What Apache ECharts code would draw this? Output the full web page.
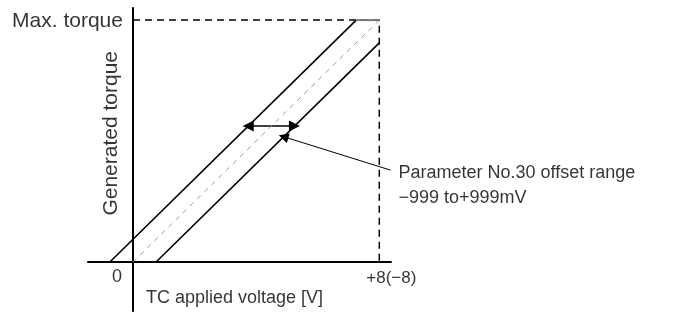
<!DOCTYPE html>
<html>
<head>
<meta charset="utf-8">
<script src="https://cdn.jsdelivr.net/npm/echarts@6/dist/echarts.min.js"></script>
<style>
  html, body { margin: 0; padding: 0; background: #fff; }
  #chart { width: 678px; height: 320px; }
</style>
</head>
<body>
<div id="chart"></div>
<script>
// Torque command input: generated torque (% of max) versus TC applied voltage (V)
const nominalLine    = [[0, 0], [8, 100]];
const upperLine      = [[-0.75, 0], [7.25, 100]];
const saturationLine = [[7.25, 100], [8, 100]];
const lowerLine      = [[0.75, 0], [8, 90.6]];
const maxTorqueGuide = [[0, 100], [8, 100], [8, 0]];
const offsetArrow    = [[3.745, 56.2], [5.245, 56.2]];
const leaderLine     = [[4.89, 51.8], [8.36, 38]];

const tickValues = [0, 8];
const tickLabels = ['0', '+8(−8)'];
const yTopLabel  = 'Max. torque';
const yAxisTitle = 'Generated torque';
const xAxisTitle = 'TC applied voltage [V]';
const noteLines  = ['Parameter No.30 offset range', '−999 to+999mV'];

const FONT = '"Liberation Sans", Arial, Helvetica, sans-serif';

// a text anchored at a data point
function textAt(point, text, opts) {
  return {
    value: point,
    label: Object.assign({
      show: true,
      position: 'inside',
      formatter: text,
      color: '#000',
      fontFamily: FONT,
      fontSize: 18,
      align: 'center',
      verticalAlign: 'middle'
    }, opts)
  };
}

const texts = [
  textAt([tickValues[0], 0], tickLabels[0], { offset: [-16, 15] }),
  textAt([tickValues[1], 0], tickLabels[1], { offset: [12, 16], fontSize: 17 }),
  textAt([0, 100], yTopLabel, { align: 'right', offset: [-10, 1], fontSize: 21 }),
  textAt([-0.7, 53.2], yAxisTitle, { rotate: 90, fontSize: 21 }),
  textAt([0, 0], xAxisTitle, { align: 'left', offset: [13, 36] }),
  textAt(leaderLine[1], noteLines[0], { align: 'left', offset: [8, 3] }),
  textAt(leaderLine[1], noteLines[1], { align: 'left', offset: [8, 28] })
];

function line(data, style) {
  return {
    type: 'line',
    data: data,
    symbol: 'none',
    silent: true,
    lineStyle: style
  };
}

const chart = echarts.init(document.getElementById('chart'), null, { renderer: 'canvas' });
chart.setOption({
  animation: false,
  backgroundColor: '#fff',
  grid: { left: 88, right: 287, top: 8, bottom: 9 },
  xAxis: {
    type: 'value', min: -1.46, max: 8.38,
    axisLine: { onZero: true, lineStyle: { color: '#000', width: 2 } },
    axisTick: { show: false }, axisLabel: { show: false }, splitLine: { show: false }
  },
  yAxis: {
    type: 'value', min: -20.25, max: 105,
    axisLine: { onZero: true, lineStyle: { color: '#000', width: 2 } },
    axisTick: { show: false }, axisLabel: { show: false }, splitLine: { show: false }
  },
  series: [
    line(maxTorqueGuide, { color: '#000', width: 1.5, type: [7, 5] }),
    line(nominalLine, { color: '#9a9a9a', width: 1, type: [5, 5] }),
    line(upperLine, { color: '#000', width: 1.6 }),
    line(saturationLine, { color: '#7a7a7a', width: 2 }),
    line(lowerLine, { color: '#000', width: 1.6 }),
    {
      type: 'lines',
      coordinateSystem: 'cartesian2d',
      silent: true,
      symbol: ['triangle', 'triangle'],
      symbolSize: [11, 11],
      lineStyle: { color: '#000', width: 1.5, opacity: 1 },
      data: [{ coords: offsetArrow }]
    },
    {
      type: 'lines',
      coordinateSystem: 'cartesian2d',
      silent: true,
      symbol: ['triangle', 'none'],
      symbolSize: [10, 11],
      lineStyle: { color: '#000', width: 1, opacity: 1 },
      data: [{ coords: leaderLine }]
    },
    {
      type: 'scatter',
      silent: true,
      symbolSize: 1,
      itemStyle: { color: 'rgba(0,0,0,0)' },
      data: texts
    }
  ]
});
</script>
</body>
</html>
